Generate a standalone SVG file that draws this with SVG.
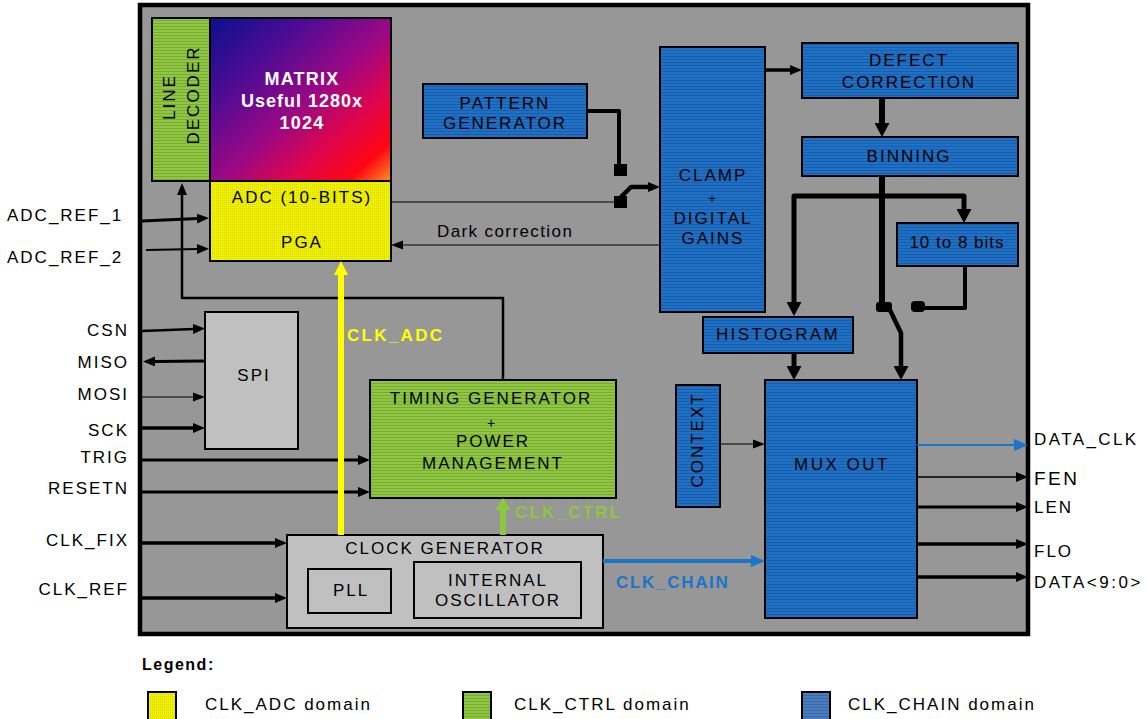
<svg xmlns="http://www.w3.org/2000/svg" width="1147" height="719" viewBox="0 0 1147 719">
<style>
text{font-family:"Liberation Sans",Arial,sans-serif;font-size:17px;letter-spacing:2px;fill:#000}
.m{text-anchor:middle}
.e{text-anchor:end}
.b{font-weight:bold}
.box{stroke:#000;stroke-width:2}
.blue{fill:url(#pBlue)}
.green{fill:url(#pGreen)}
.yellow{fill:url(#pYellow)}
.grey{fill:#c0c0c0}
.ln{fill:none;stroke:#000;stroke-linejoin:round}
</style>
<defs>
<pattern id="pBlue" width="3" height="3" patternUnits="userSpaceOnUse"><rect width="3" height="3" fill="#1e71c6"/><rect y="2" width="3" height="1" fill="#195da6"/></pattern>
<pattern id="pBlueL" width="3" height="3" patternUnits="userSpaceOnUse"><rect width="3" height="3" fill="#4a7cc0"/><rect y="2" width="3" height="1" fill="#3a68a8"/></pattern>
<pattern id="pGreen" width="3" height="3" patternUnits="userSpaceOnUse"><rect width="3" height="3" fill="#8fc742"/><rect y="2" width="3" height="1" fill="#78ab34"/></pattern>
<pattern id="pYellow" width="2" height="2" patternUnits="userSpaceOnUse"><rect width="2" height="2" fill="#f2f200"/><rect width="1" height="1" fill="#d6d600"/></pattern>
<linearGradient id="gMat" x1="0" y1="0" x2="1" y2="1">
<stop offset="0" stop-color="#0a108e"/>
<stop offset="0.3" stop-color="#560b93"/>
<stop offset="0.52" stop-color="#9a0884"/>
<stop offset="0.72" stop-color="#e0054a"/>
<stop offset="0.88" stop-color="#ff0512"/>
<stop offset="1" stop-color="#ff9020"/>
</linearGradient>
<marker id="ah" viewBox="0 0 12 10" markerWidth="12" markerHeight="10" refX="1" refY="5" markerUnits="userSpaceOnUse" orient="auto-start-reverse"><path d="M0,0 L12,5 L0,10 z" fill="#000"/></marker>
<marker id="ahs" viewBox="0 0 12 10" markerWidth="12" markerHeight="10" refX="1" refY="5" markerUnits="userSpaceOnUse" orient="auto-start-reverse"><path d="M0,0.5 L12,5 L0,9.5 z" fill="#000"/></marker>
<marker id="ahL" viewBox="0 0 14 15" markerWidth="14" markerHeight="15" refX="1" refY="7.5" markerUnits="userSpaceOnUse" orient="auto-start-reverse"><path d="M0,0 L14,7.5 L0,15 z" fill="#000"/></marker>
<marker id="ahB" viewBox="0 0 14 12" markerWidth="14" markerHeight="12" refX="1" refY="6" markerUnits="userSpaceOnUse" orient="auto"><path d="M0,0 L14,6 L0,12 z" fill="#1b75c9"/></marker>
<marker id="ahY" viewBox="0 0 14 14" markerWidth="14" markerHeight="14" refX="1" refY="7" markerUnits="userSpaceOnUse" orient="auto"><path d="M0,0 L14,7 L0,14 z" fill="#ffff00"/></marker>
<marker id="ahG" viewBox="0 0 12 16" markerWidth="12" markerHeight="16" refX="1" refY="8" markerUnits="userSpaceOnUse" orient="auto"><path d="M0,0 L12,8 L0,16 z" fill="#8dc63f"/></marker>
</defs>
<rect width="1147" height="719" fill="#fff"/>

<g id="chip"><rect x="140" y="5" width="888" height="629" fill="#979797" stroke="#000" stroke-width="4.5"/></g>

<g id="line-decoder"><rect class="box green" x="152" y="18" width="58" height="163"/>
<text class="m" transform="translate(175,97) rotate(-90)">LINE</text>
<text class="m" transform="translate(199,95) rotate(-90)">DECODER</text></g>

<g id="matrix"><rect class="box" x="210" y="18" width="181" height="163" fill="url(#gMat)"/>
<text class="m b" x="302" y="85" style="fill:#fff;font-size:18px;letter-spacing:1.2px">MATRIX</text>
<text class="m b" x="302" y="107" style="fill:#fff;font-size:18px;letter-spacing:1px">Useful 1280x</text>
<text class="m b" x="302" y="129" style="fill:#fff;font-size:18px;letter-spacing:1.2px">1024</text></g>

<g id="adc-pga"><rect class="box yellow" x="210" y="181" width="181" height="80"/>
<text class="m" x="302" y="203">ADC (10-BITS)</text>
<text class="m" x="302" y="248">PGA</text></g>

<g id="pattern-generator"><rect class="box blue" x="423" y="84" width="164" height="54"/>
<text class="m" x="505" y="109">PATTERN</text>
<text class="m" x="505" y="129">GENERATOR</text></g>

<g id="clamp"><rect class="box blue" x="660" y="47" width="105" height="265"/>
<text class="m" x="713" y="181">CLAMP</text>
<text class="m" x="713" y="203" style="font-size:13px">+</text>
<text class="m" x="713" y="224">DIGITAL</text>
<text class="m" x="713" y="244">GAINS</text></g>

<g id="defect-correction"><rect class="box blue" x="802" y="43" width="216" height="55"/>
<text class="m" x="909" y="66">DEFECT</text>
<text class="m" x="909" y="88">CORRECTION</text></g>

<g id="binning"><rect class="box blue" x="802" y="137" width="216" height="39"/>
<text class="m" x="909" y="162">BINNING</text></g>

<g id="ten-to-eight"><rect class="box blue" x="897" y="223" width="121" height="43"/>
<text class="m" x="957" y="248" style="letter-spacing:1px">10 to 8 bits</text></g>

<g id="histogram"><rect class="box blue" x="703" y="317" width="150" height="36"/>
<text class="m" x="778" y="340" style="letter-spacing:2.4px">HISTOGRAM</text></g>

<g id="context"><rect class="box blue" x="676" y="385" width="44" height="122"/>
<text class="m" transform="translate(703,440) rotate(-90)">CONTEXT</text></g>

<g id="mux-out"><rect class="box blue" x="765" y="380" width="152" height="238"/>
<text class="m" x="842" y="470" style="letter-spacing:2.5px">MUX OUT</text></g>

<g id="spi"><rect class="box grey" x="205" y="312" width="93" height="137"/>
<text class="m" x="254" y="381">SPI</text></g>

<g id="timing-generator"><rect class="box green" x="370" y="380" width="246" height="118"/>
<text class="m" x="491" y="404">TIMING GENERATOR</text>
<text class="m" x="492" y="428" style="font-size:14px">+</text>
<text class="m" x="493" y="447">POWER</text>
<text class="m" x="493" y="469">MANAGEMENT</text></g>

<g id="clock-generator"><rect class="box grey" x="287" y="535" width="316" height="93"/>
<text class="m" x="445" y="554">CLOCK GENERATOR</text>
<g id="pll"><rect class="box grey" x="308" y="569" width="83" height="44"/>
<text class="m" x="351" y="596">PLL</text></g>
<g id="internal-oscillator"><rect class="box grey" x="414" y="562" width="167" height="56"/>
<text class="m" x="498" y="586">INTERNAL</text>
<text class="m" x="498" y="606">OSCILLATOR</text></g></g>

<g id="connectors">
<path class="ln" d="M503,380 V298 H182 V194" stroke-width="2.5" marker-end="url(#ah)"/>
<path class="ln" d="M142,221 L198,218.5" stroke-width="3" marker-end="url(#ah)"/>
<path class="ln" d="M146,250 L198,249" stroke-width="2" marker-end="url(#ah)"/>
<path class="ln" d="M142,331 L194,329" stroke-width="2.5" marker-end="url(#ah)"/>
<path class="ln" d="M205,361 L154,361.5" stroke-width="3" marker-end="url(#ah)"/>
<path class="ln" d="M142,397 L194,397" stroke-width="1" marker-end="url(#ahs)"/>
<path class="ln" d="M142,428 L194,428" stroke-width="3.5" marker-end="url(#ah)"/>
<path class="ln" d="M142,460 L359,460" stroke-width="3" marker-end="url(#ah)"/>
<path class="ln" d="M142,492 L359,492" stroke-width="3" marker-end="url(#ah)"/>
<path class="ln" d="M142,543 L276,543" stroke-width="3.5" marker-end="url(#ah)"/>
<path class="ln" d="M142,598 L276,598" stroke-width="3.5" marker-end="url(#ah)"/>
<path d="M341,535 V274" fill="none" stroke="#ffff00" stroke-width="6" marker-end="url(#ahY)"/>
<path d="M503,535 V509" fill="none" stroke="#8dc63f" stroke-width="6" marker-end="url(#ahG)"/>
<path d="M603,561 H752" fill="none" stroke="#1b75c9" stroke-width="4" marker-end="url(#ahB)"/>
<path class="ln" d="M391,202 H615" stroke-width="1"/>
<path class="ln" d="M587,111 H619 V164" stroke-width="4"/>
<rect x="614" y="164" width="13" height="12" fill="#000"/>
<rect x="614" y="196" width="13" height="12" fill="#000"/>
<path class="ln" d="M619,199 L631,187 H649" stroke-width="4.5" stroke-linecap="round" marker-end="url(#ah)"/>
<path class="ln" d="M660,245 H402" stroke-width="1" marker-end="url(#ahs)"/>
<path class="ln" d="M765,70 H791" stroke-width="3.5" marker-end="url(#ah)"/>
<path class="ln" d="M882,98 V124" stroke-width="6" marker-end="url(#ahL)"/>
<path class="ln" d="M882,176 V307" stroke-width="6"/>
<path class="ln" d="M794,303 V196 H964 V210" stroke-width="5" marker-start="url(#ahL)" marker-end="url(#ahL)"/>
<rect x="876" y="302" width="16" height="10" rx="3" fill="#000"/>
<rect x="911" y="301" width="14" height="11" rx="4" fill="#000"/>
<path class="ln" d="M889,308 L901,333 V367" stroke-width="4.5" marker-end="url(#ahL)"/>
<path class="ln" d="M965,266 V308 H922" stroke-width="4"/>
<path class="ln" d="M794,353 V367" stroke-width="5" marker-end="url(#ahL)"/>
<path class="ln" d="M720,444 H754" stroke-width="1" marker-end="url(#ahs)"/>
<path d="M917,445 H1015" fill="none" stroke="#1b75c9" stroke-width="2" marker-end="url(#ahB)"/>
<path class="ln" d="M917,477 H1017" stroke-width="1.5" marker-end="url(#ah)"/>
<path class="ln" d="M917,507 H1017" stroke-width="3" marker-end="url(#ah)"/>
<path class="ln" d="M917,544 H1017" stroke-width="3.5" marker-end="url(#ah)"/>
<path class="ln" d="M917,577 H1017" stroke-width="3.5" marker-end="url(#ah)"/>
</g>

<g id="labels">
<text x="7" y="221">ADC_REF_1</text>
<text x="7" y="263">ADC_REF_2</text>
<text class="e" x="129" y="336">CSN</text>
<text class="e" x="129" y="368">MISO</text>
<text class="e" x="129" y="400">MOSI</text>
<text class="e" x="129" y="436">SCK</text>
<text class="e" x="129" y="463">TRIG</text>
<text class="e" x="129" y="494">RESETN</text>
<text class="e" x="129" y="546">CLK_FIX</text>
<text class="e" x="129" y="595">CLK_REF</text>
<text x="437" y="237" style="letter-spacing:1.4px">Dark correction</text>
<text class="b" x="347" y="341" style="fill:#ffff00;letter-spacing:2.3px">CLK_ADC</text>
<text class="b" x="515" y="518" style="fill:#8dc63f;letter-spacing:2.2px">CLK_CTRL</text>
<text class="b" x="616" y="588" style="fill:#1b75c9;letter-spacing:1.7px">CLK_CHAIN</text>
<text x="1034" y="445" style="letter-spacing:2.4px">DATA_CLK</text>
<text x="1034" y="485" style="font-size:19px;letter-spacing:2.5px">FEN</text>
<text x="1034" y="513">LEN</text>
<text x="1034" y="557">FLO</text>
<text x="1034" y="588" style="letter-spacing:2.5px">DATA&lt;9:0&gt;</text>
</g>

<g id="legend">
<text class="b" x="142" y="670" style="font-size:16px;letter-spacing:1.5px">Legend:</text>
<rect class="box yellow" x="148" y="692" width="28" height="30"/>
<text x="205" y="710">CLK_ADC domain</text>
<rect class="box green" x="463" y="692" width="28" height="30"/>
<text x="514" y="710">CLK_CTRL domain</text>
<rect class="box" x="802" y="692" width="28" height="30" fill="url(#pBlueL)"/>
<text x="848" y="710">CLK_CHAIN domain</text>
</g>
</svg>
